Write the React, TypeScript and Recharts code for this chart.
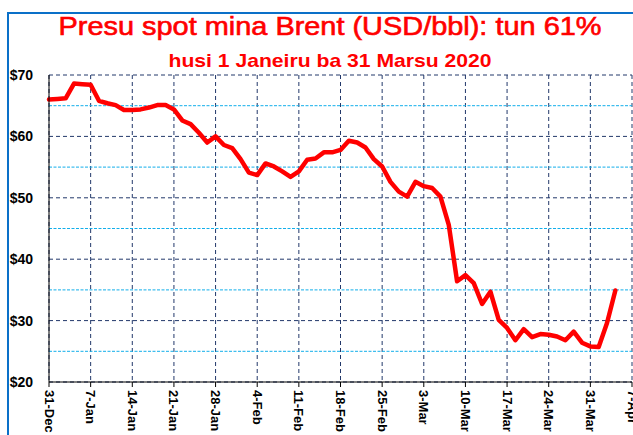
import React from "react";
import {
  LineChart,
  Line,
  XAxis,
  YAxis,
  CartesianGrid,
  ReferenceLine,
} from "recharts";

// Trading days (weekdays) 31-Dec-2019 .. 7-Apr-2020
const dates = [
  "31-Dec", "1-Jan", "2-Jan", "3-Jan", "6-Jan", "7-Jan", "8-Jan", "9-Jan", "10-Jan", "13-Jan",
  "14-Jan", "15-Jan", "16-Jan", "17-Jan", "20-Jan", "21-Jan", "22-Jan", "23-Jan", "24-Jan", "27-Jan",
  "28-Jan", "29-Jan", "30-Jan", "31-Jan", "3-Feb", "4-Feb", "5-Feb", "6-Feb", "7-Feb", "10-Feb",
  "11-Feb", "12-Feb", "13-Feb", "14-Feb", "17-Feb", "18-Feb", "19-Feb", "20-Feb", "21-Feb", "24-Feb",
  "25-Feb", "26-Feb", "27-Feb", "28-Feb", "2-Mar", "3-Mar", "4-Mar", "5-Mar", "6-Mar", "9-Mar",
  "10-Mar", "11-Mar", "12-Mar", "13-Mar", "16-Mar", "17-Mar", "18-Mar", "19-Mar", "20-Mar", "23-Mar",
  "24-Mar", "25-Mar", "26-Mar", "27-Mar", "30-Mar", "31-Mar", "1-Apr", "2-Apr", "3-Apr", "6-Apr",
  "7-Apr",
];

// Brent spot price, USD/bbl
const prices: (number | null)[] = [
  66.0, 66.1, 66.2, 68.6, 68.5, 68.4, 65.8, 65.4, 65.1, 64.3,
  64.3, 64.4, 64.7, 65.1, 65.1, 64.4, 62.6, 62.0, 60.6, 59.0,
  60.0, 58.6, 58.1, 56.3, 54.1, 53.7, 55.6, 55.1, 54.3, 53.4,
  54.3, 56.2, 56.4, 57.4, 57.4, 57.8, 59.3, 59.0, 58.2, 56.3,
  55.1, 52.6, 51.0, 50.2, 52.6, 51.9, 51.6, 50.2, 45.6, 36.4,
  37.4, 36.1, 32.7, 34.7, 30.1, 28.8, 26.8, 28.6, 27.3, 27.8,
  27.7, 27.4, 26.8, 28.2, 26.4, 25.8, 25.7, 29.6, 34.9, null,
  null,
];

const xTickIndex = [0, 5, 10, 15, 20, 25, 30, 35, 40, 45, 50, 55, 60, 65, 70];
const yTicks = [20, 30, 40, 50, 60, 70];
const yMinorLines = [25, 35, 45, 55, 65];

const titleText = "Presu spot mina Brent (USD/bbl): tun 61%";
const subtitleText = "husi 1 Janeiru ba 31 Marsu 2020";

const data = dates.map((d, i) => ({ i, date: d, price: prices[i] }));

const XTick = (props: any) => {
  const { x, y, payload } = props;
  const label = dates[payload.value] ?? "";
  return (
    <text
      transform={`translate(${x},${y}) rotate(90)`}
      textAnchor="start"
      dominantBaseline="central"
      fontFamily="'Liberation Sans', Arial, sans-serif"
      fontWeight="bold"
      fontSize={13}
      fill="#000"
    >
      {label}
    </text>
  );
};

export default function App() {
  return (
    <div
      style={{
        position: "absolute",
        left: 0,
        top: 0,
        width: 633,
        height: 435,
        background: "#fff",
        overflow: "hidden",
      }}
    >
      <div
        style={{
          position: "absolute",
          left: 7,
          top: 12,
          width: 700,
          height: 500,
          borderLeft: "2px solid #0A70C8",
          borderTop: "2px solid #0A70C8",
        }}
      />
      <div style={{ position: "absolute", left: 0, top: 0 }}>
        <LineChart
          width={633}
          height={435}
          data={data}
          margin={{ top: 75, right: 1, bottom: 0, left: 0 }}
        >
          <CartesianGrid stroke="#22386A" strokeDasharray="4 3" strokeWidth={1} />
          {yMinorLines.map((v) => (
            <ReferenceLine
              key={v}
              y={v}
              stroke="#12AEEA"
              strokeDasharray="3 1.5"
              strokeWidth={1}
            />
          ))}
          <XAxis
            dataKey="i"
            type="number"
            domain={[0, 70]}
            ticks={xTickIndex}
            interval={0}
            height={53}
            tickSize={5}
            tickMargin={3}
            stroke="#000"
            tickLine={{ stroke: "#000" }}
            axisLine={{ stroke: "#000" }}
            tick={<XTick />}
          />
          <YAxis
            type="number"
            domain={[20, 70]}
            ticks={yTicks}
            width={49}
            tickLine={false}
            tickMargin={16}
            tickSize={0}
            axisLine={{ stroke: "#000" }}
            tickFormatter={(v: number) => `$${v}`}
            tick={{
              fill: "#000",
              fontSize: 14,
              fontWeight: "bold",
              fontFamily: "'Liberation Sans', Arial, sans-serif",
            }}
          />
          <Line
            type="linear"
            dataKey="price"
            stroke="#FF0000"
            strokeWidth={4.5}
            strokeLinejoin="round"
            strokeLinecap="round"
            dot={false}
            activeDot={false}
            connectNulls={false}
            isAnimationActive={false}
          />
        </LineChart>
      </div>
      <svg
        width={633}
        height={75}
        style={{ position: "absolute", left: 0, top: 0, pointerEvents: "none" }}
      >
        <text
          x={330}
          y={35}
          textAnchor="middle"
          fontFamily="'Liberation Sans', Arial, sans-serif"
          fontSize={25}
          fill="#FF0000"
          stroke="#FF0000"
          strokeWidth={0.6}
          textLength={543}
          lengthAdjust="spacingAndGlyphs"
        >
          {titleText}
        </text>
        <text
          x={330}
          y={67}
          textAnchor="middle"
          fontFamily="'Liberation Sans', Arial, sans-serif"
          fontSize={19}
          fontWeight="bold"
          fill="#FF0000"
          textLength={323}
          lengthAdjust="spacingAndGlyphs"
        >
          {subtitleText}
        </text>
      </svg>
    </div>
  );
}
